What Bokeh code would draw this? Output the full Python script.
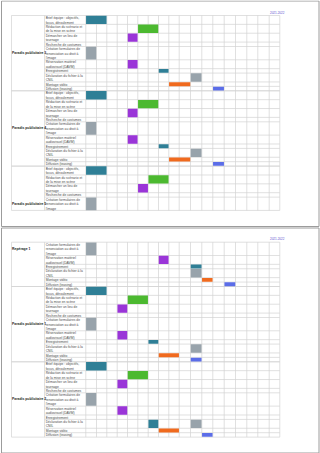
from bokeh.plotting import figure
from bokeh.models import ColumnDataSource, Range1d
from bokeh.core.properties import value
from bokeh.embed import file_html
from bokeh.resources import INLINE

# ---------------- data ----------------
task_names = [
    "Brief équipe : objectifs,\nfocus, déroulement",
    "Rédaction du scénario et\nde la mise en scène",
    "Démarcher un lieu de\ntournage",
    "Recherche de costumes",
    "Création formulaires de\nrenonciation au droit à\nl'image",
    "Réservation matériel\naudiovisuel (DAVM)",
    "Enregistrement",
    "Déclaration du fichier à la\nCNIL",
    "Montage vidéo",
    "Diffusion (teasing)",
]

block_names = ["Paradis publicitaire 3", "Paradis publicitaire 4", "Paradis publicitaire 5",
               "Repérage 1", "Paradis publicitaire 1", "Paradis publicitaire 2"]
block_page = [0, 0, 0, 1, 1, 1]
block_first_task = [0, 0, 0, 4, 0, 0]
block_last_task = [9, 9, 4, 9, 9, 9]

bar_block = [0, 0, 0, 0, 0, 0, 0, 0, 0,
             1, 1, 1, 1, 1, 1, 1, 1, 1,
             2, 2, 2, 2,
             3, 3, 3, 3, 3, 3,
             4, 4, 4, 4, 4, 4, 4, 4, 4,
             5, 5, 5, 5, 5, 5, 5, 5, 5]
bar_task = [0, 1, 2, 4, 5, 6, 7, 8, 9,
            0, 1, 2, 4, 5, 6, 7, 8, 9,
            0, 1, 2, 4,
            4, 5, 6, 7, 8, 9,
            0, 1, 2, 4, 5, 6, 7, 8, 9,
            0, 1, 2, 4, 5, 7, 7, 8, 9]
bar_start = [0, 5, 4, 0, 4, 7, 10, 8, 12,
             0, 5, 4, 0, 4, 7, 10, 8, 12,
             0, 6, 5, 0,
             0, 7, 10, 10, 11, 13,
             0, 4, 3, 0, 3, 6, 10, 7, 10,
             0, 4, 3, 0, 3, 6, 10, 7, 11]
bar_len = [2, 2, 1, 1, 1, 1, 1, 2, 1,
           2, 2, 1, 1, 1, 1, 1, 2, 1,
           2, 2, 1, 1,
           1, 1, 1, 1, 1, 1,
           2, 2, 1, 1, 1, 1, 1, 2, 1,
           2, 2, 1, 1, 1, 1, 1, 2, 1]
bar_kind = ["teal", "green", "purple", "gray", "purple", "teal", "gray", "orange", "blue",
            "teal", "green", "purple", "gray", "purple", "teal", "gray", "orange", "blue",
            "teal", "green", "purple", "gray",
            "gray", "purple", "teal", "gray", "orange", "blue",
            "teal", "green", "purple", "gray", "purple", "teal", "gray", "orange", "blue",
            "teal", "green", "purple", "gray", "purple", "teal", "gray", "orange", "blue"]

header_label = "2021-2022"

# ---------------- styles / layout ----------------
kind_colors = {"teal": "#2f7f96", "green": "#4cb930", "purple": "#9a35d8",
               "gray": "#98a3ab", "orange": "#f06a1e", "blue": "#5b6de8"}
W, H = 320, 453
LINE = 4.43
page_boxes = [(1.0, 0.5, 318.5, 226.0), (1.0, 227.5, 318.5, 452.5)]
table_top = [15.0, 241.7]
x_label, x_task = 11.0, 44.0
col_edges = [85.3, 96.0, 106.3, 116.7, 127.0, 137.3, 147.7, 158.0, 168.3, 178.7,
             190.0, 201.3, 212.3, 223.7, 235.0, 246.3, 257.3, 268.7, 279.3]
x_right = col_edges[-1]
grid_color = "#d2d2d2"
FONT = value("Liberation Sans")

task_lines = [t.split("\n") for t in task_names]
task_nlines = [len(l) for l in task_lines]

p = figure(width=W, height=H, output_backend="svg", toolbar_location=None,
           x_range=Range1d(0, W), y_range=Range1d(H, 0), min_border=0)
p.axis.visible = False
p.grid.visible = False
p.outline_line_color = None
p.background_fill_color = "white"
p.border_fill_color = "white"

# page frames
p.quad(left=[b[0] for b in page_boxes], right=[b[2] for b in page_boxes],
       top=[b[1] for b in page_boxes], bottom=[b[3] for b in page_boxes],
       fill_color="white", line_color="#9c9c9c", line_width=1)

# compute rows
cursor = list(table_top)
row_top = {}
block_top, block_bot, label_y = [], [], []
for b in range(len(block_names)):
    pg = block_page[b]
    bt = cursor[pg]
    block_top.append(bt)
    for t in range(block_first_task[b], block_last_task[b] + 1):
        row_top[(b, t)] = cursor[pg]
        cursor[pg] += task_nlines[t] * LINE
    block_bot.append(cursor[pg])
    full_top = bt - sum(task_nlines[:block_first_task[b]]) * LINE
    label_y.append(full_top + sum(task_nlines) * LINE / 2)

# grid lines
hx0, hx1, hy = [], [], []
for b in range(len(block_names)):
    hx0.append(x_label); hx1.append(x_right); hy.append(block_top[b])
    hx0.append(x_label); hx1.append(x_right); hy.append(block_bot[b])
    for t in range(block_first_task[b] + 1, block_last_task[b] + 1):
        hx0.append(x_task); hx1.append(x_right); hy.append(row_top[(b, t)])
p.segment(x0=hx0, x1=hx1, y0=hy, y1=hy, line_color=grid_color, line_width=0.7)

vx, vy0, vy1 = [], [], []
for pg in range(2):
    tops = [block_top[b] for b in range(len(block_names)) if block_page[b] == pg]
    bots = [block_bot[b] for b in range(len(block_names)) if block_page[b] == pg]
    for x in [x_label, x_task] + col_edges:
        vx.append(x); vy0.append(min(tops)); vy1.append(max(bots))
p.segment(x0=vx, x1=vx, y0=vy0, y1=vy1, line_color=grid_color, line_width=0.7)

# bars
ins = 0.25
bsrc = ColumnDataSource(dict(
    left=[col_edges[s] + ins for s in bar_start],
    right=[col_edges[s + n] - ins for s, n in zip(bar_start, bar_len)],
    top=[row_top[(b, t)] + ins for b, t in zip(bar_block, bar_task)],
    bottom=[row_top[(b, t)] + task_nlines[t] * LINE - ins for b, t in zip(bar_block, bar_task)],
    color=[kind_colors[k] for k in bar_kind],
))
p.quad(left="left", right="right", top="top", bottom="bottom", source=bsrc,
       fill_color="color", line_color=None)

# task texts
tx, ty, tt = [], [], []
for b in range(len(block_names)):
    for t in range(block_first_task[b], block_last_task[b] + 1):
        for i, line in enumerate(task_lines[t]):
            tx.append(x_task + 1.2)
            ty.append(row_top[(b, t)] + (i + 0.55) * LINE)
            tt.append(line)
p.text(x=tx, y=ty, text=tt, text_font=FONT, text_font_size="3.3px",
       text_color="#4a4a4a", text_baseline="middle", text_align="left")

# block labels
p.text(x=[x_label + 0.6] * len(block_names), y=label_y, text=block_names,
       text_font=FONT, text_font_size="3.4px", text_font_style="bold",
       text_color="#222222", text_baseline="middle", text_align="left")

# header labels
p.text(x=[269.5, 269.5], y=[11.7, 238.0], text=[header_label, header_label],
       text_font=FONT, text_font_size="3px", text_color="#5b4fcf",
       text_baseline="middle", text_align="left")

open("out.html", "w").write(file_html(p, INLINE))
